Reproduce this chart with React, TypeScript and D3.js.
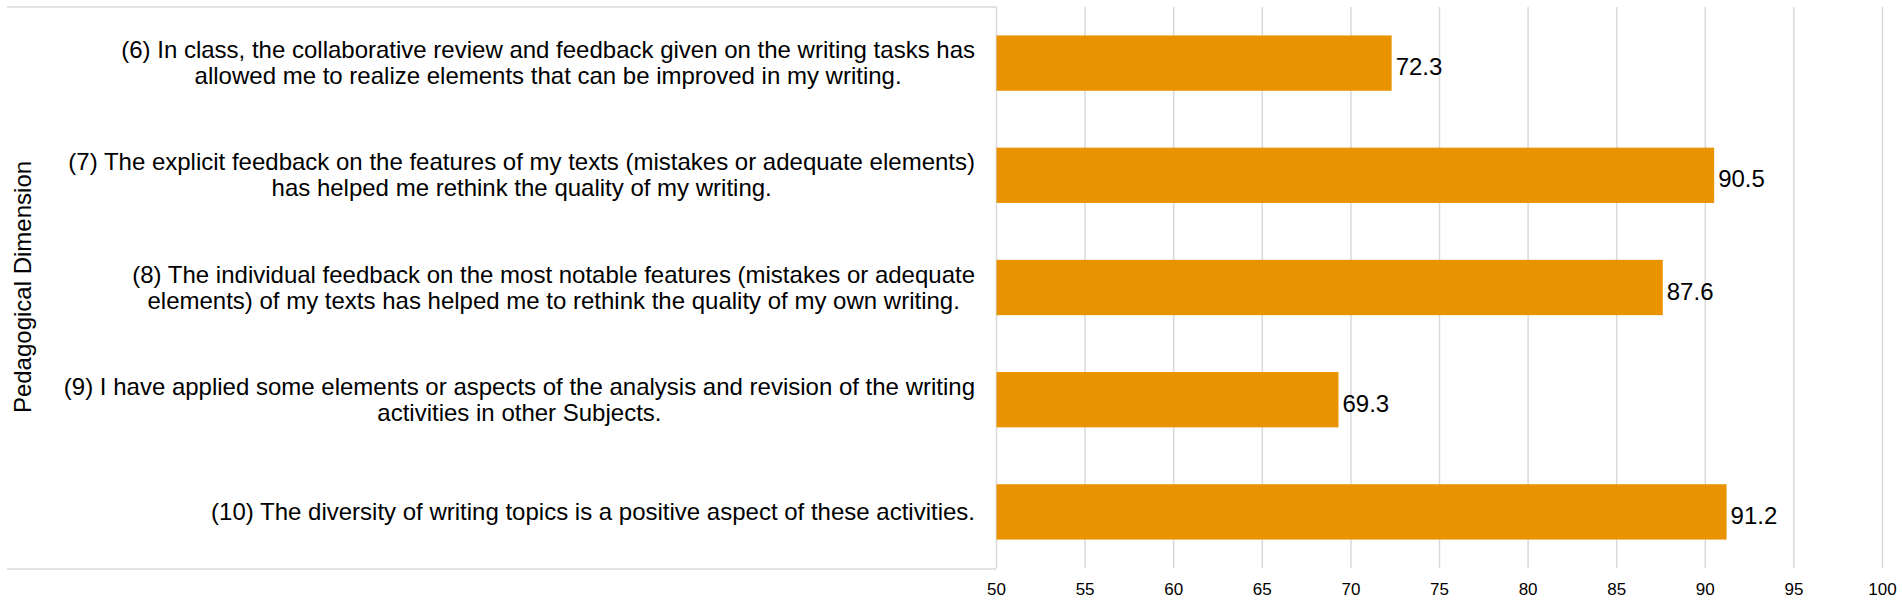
import React, { useEffect, useRef } from "react";
import * as d3 from "d3";

const categoryLines: string[][] = [
  [
    "(6) In class, the collaborative review and feedback given on the writing tasks has",
    "allowed me to realize elements that can be improved in my writing.",
  ],
  [
    "(7) The explicit feedback on the features of my texts (mistakes or adequate elements)",
    "has helped me rethink the quality of my writing.",
  ],
  [
    "(8) The individual feedback on the most notable features (mistakes or adequate",
    "elements) of my texts has helped me to rethink the quality of my own writing.",
  ],
  [
    "(9) I have applied some elements or aspects of the analysis and revision of the writing",
    "activities in other Subjects.",
  ],
  ["(10) The diversity of writing topics is a positive aspect of these activities."],
];
const categoryIds: string[] = ["6", "7", "8", "9", "10"];
const values: number[] = [72.3, 90.5, 87.6, 69.3, 91.2];
const xTicks: number[] = [50, 55, 60, 65, 70, 75, 80, 85, 90, 95, 100];
const axisTitle = "Pedagogical Dimension";

const W = 1902;
const H = 602;
const FONT = "'Liberation Sans', Arial, Helvetica, sans-serif";

export default function App() {
  const ref = useRef<SVGSVGElement | null>(null);

  useEffect(() => {
    const svg = d3.select(ref.current);
    svg.selectAll("*").remove();

    const x = d3.scaleLinear().domain([50, 100]).range([996.5, 1882.5]);
    const y = d3
      .scaleBand<string>()
      .domain(categoryIds)
      .range([7, 568])
      .paddingInner(0.507)
      .paddingOuter(0.2535);

    const top = 7;
    const bottom = 568;

    // gridlines
    svg
      .append("g")
      .selectAll("line")
      .data(xTicks)
      .join("line")
      .attr("x1", (d) => x(d))
      .attr("x2", (d) => x(d))
      .attr("y1", top)
      .attr("y2", bottom)
      .attr("stroke", "#d9d9d9")
      .attr("stroke-width", 1.5);

    // label box top/bottom lines
    svg
      .append("g")
      .selectAll("line")
      .data([top, bottom + 1])
      .join("line")
      .attr("x1", 7)
      .attr("x2", x(50))
      .attr("y1", (d) => d)
      .attr("y2", (d) => d)
      .attr("stroke", "#d9d9d9")
      .attr("stroke-width", 1.5);

    // bars
    svg
      .append("g")
      .selectAll("rect")
      .data(values)
      .join("rect")
      .attr("x", x(50))
      .attr("y", (_, i) => y(categoryIds[i]) as number)
      .attr("width", (d) => x(d) - x(50))
      .attr("height", y.bandwidth())
      .attr("fill", "#EA9300");

    // value labels
    svg
      .append("g")
      .selectAll("text")
      .data(values)
      .join("text")
      .attr("x", (d) => x(d) + 4)
      .attr("y", (_, i) => (y(categoryIds[i]) as number) + y.bandwidth() / 2 + 12)
      .attr("font-family", FONT)
      .attr("font-size", 24)
      .attr("fill", "#000")
      .text((d) => d.toFixed(1));

    // tick labels
    svg
      .append("g")
      .selectAll("text")
      .data(xTicks)
      .join("text")
      .attr("x", (d) => x(d))
      .attr("y", 595)
      .attr("text-anchor", "middle")
      .attr("font-family", FONT)
      .attr("font-size", 17)
      .attr("fill", "#000")
      .text((d) => String(d));

    // category labels
    const rightEdge = 975;
    const lineH = 26;
    const fs = 24;
    categoryLines.forEach((lines, i) => {
      const cy = (y(categoryIds[i]) as number) + y.bandwidth() / 2;
      const g = svg.append("g");
      const texts = lines.map((ln, j) =>
        g
          .append("text")
          .attr("font-family", FONT)
          .attr("font-size", fs)
          .attr("fill", "#000")
          .attr("text-anchor", "middle")
          .attr("y", cy + (j - (lines.length - 1) / 2) * lineH + fs * 0.34)
          .text(ln)
      );
      const widths = texts.map((t) => (t.node() as SVGTextElement).getComputedTextLength());
      const maxW = Math.max(...widths);
      texts.forEach((t) => t.attr("x", rightEdge - maxW / 2));
    });

    // axis title
    svg
      .append("text")
      .attr("transform", `translate(31,287) rotate(-90)`)
      .attr("text-anchor", "middle")
      .attr("font-family", FONT)
      .attr("font-size", 24)
      .attr("fill", "#000")
      .text(axisTitle);
  }, []);

  return (
    <svg
      ref={ref}
      width={W}
      height={H}
      style={{ position: "absolute", left: 0, top: 0, background: "#fff" }}
    />
  );
}
